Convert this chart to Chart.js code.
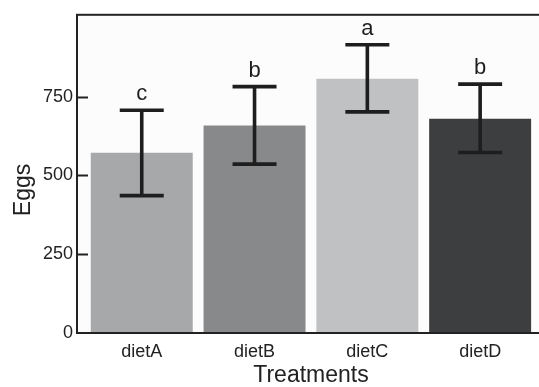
<!DOCTYPE html>
<html>
<head>
<meta charset="utf-8">
<script src="https://cdn.jsdelivr.net/npm/chart.js@4/dist/chart.umd.min.js"></script>
<style>
  html, body { margin: 0; padding: 0; background: #ffffff; overflow: hidden; }
  #wrap { width: 539px; height: 387px; overflow: hidden; }
  canvas { display: block; }
</style>
</head>
<body>
<div id="wrap"><canvas id="eggsChart" width="560" height="387"></canvas></div>
<script>
/* eggs per treatment, mean with error bars and significance letters */

const TREATMENTS = ["dietA", "dietB", "dietC", "dietD"];
const EGGS = [572, 659, 807, 680];
const ERR_LOW = [436, 536, 702, 573];
const ERR_HIGH = [707, 782, 915, 790];
const LETTERS = ["c", "b", "a", "b"];
const Y_TICKS = [0, 250, 500, 750];
const BAR_COLORS = ["#a7a8aa", "#88898b", "#c0c1c3", "#3d3e40"];

const FONT = "'Liberation Sans', Arial, sans-serif";
const INK = "#1e1e1e";

const decorations = {
  id: "decorations",
  beforeDatasetsDraw(chart) {
    const { ctx, chartArea: a } = chart;
    ctx.save();
    ctx.fillStyle = "#fcfcfc";
    ctx.fillRect(a.left, a.top, a.right - a.left, a.bottom - a.top);
    ctx.restore();
  },
  afterDatasetsDraw(chart) {
    const { ctx, chartArea: a, scales } = chart;
    const x = scales.x, y = scales.y;
    ctx.save();

    // error bars
    ctx.strokeStyle = INK;
    ctx.lineWidth = 3.6;
    ctx.lineCap = "butt";
    TREATMENTS.forEach((_, i) => {
      const cx = x.getPixelForValue(i);
      const lo = y.getPixelForValue(ERR_LOW[i]);
      const hi = y.getPixelForValue(ERR_HIGH[i]);
      ctx.beginPath();
      ctx.moveTo(cx, lo); ctx.lineTo(cx, hi);
      ctx.moveTo(cx - 22, lo); ctx.lineTo(cx + 22, lo);
      ctx.moveTo(cx - 22, hi); ctx.lineTo(cx + 22, hi);
      ctx.stroke();
    });

    // significance letters
    ctx.fillStyle = INK;
    ctx.font = "22px " + FONT;
    ctx.textAlign = "center";
    ctx.textBaseline = "alphabetic";
    LETTERS.forEach((letter, i) => {
      ctx.fillText(letter, x.getPixelForValue(i), y.getPixelForValue(ERR_HIGH[i]) - 10);
    });

    // frame and inward ticks
    ctx.strokeStyle = "#222";
    ctx.lineWidth = 2;
    ctx.strokeRect(a.left, a.top, a.right - a.left, a.bottom - a.top);
    Y_TICKS.slice(1).forEach((v) => {
      const py = Math.round(y.getPixelForValue(v)) + 0.5;
      ctx.beginPath();
      ctx.moveTo(a.left, py); ctx.lineTo(a.left + 11, py);
      ctx.stroke();
    });

    // axis titles
    ctx.fillStyle = "#222";
    ctx.font = "23px " + FONT;
    ctx.textBaseline = "middle";
    ctx.fillText("Treatments", 311, 376);
    ctx.translate(24, 190);
    ctx.rotate(-Math.PI / 2);
    ctx.fillText("Eggs", 0, 0);
    ctx.restore();
  },
};

new Chart(document.getElementById("eggsChart"), {
  type: "bar",
  data: {
    datasets: [{
      data: EGGS.map((v, i) => ({ x: i, y: v })),
      backgroundColor: BAR_COLORS,
      borderWidth: 0,
      barPercentage: 0.904,
      categoryPercentage: 1,
    }],
  },
  options: {
    responsive: false,
    animation: false,
    devicePixelRatio: 1,
    layout: { padding: { top: 5, right: 0, left: 0, bottom: 0 } },
    plugins: { legend: { display: false }, tooltip: { enabled: false } },
    scales: {
      x: {
        type: "linear",
        offset: false,
        min: -0.574,
        max: 3.708,
        grid: { display: false, drawTicks: false },
        border: { display: false },
        afterBuildTicks: (axis) => { axis.ticks = TREATMENTS.map((_, i) => ({ value: i })); },
        afterFit: (axis) => { axis.height = 54; },
        ticks: {
          autoSkip: false,
          maxRotation: 0,
          padding: 8,
          color: "#222",
          font: { family: FONT, size: 18 },
          callback: (v) => TREATMENTS[v] ?? "",
        },
      },
      y: {
        min: 0,
        max: 1010,
        grid: { display: false, drawTicks: false },
        border: { display: false },
        afterBuildTicks: (axis) => { axis.ticks = Y_TICKS.map((v) => ({ value: v })); },
        afterFit: (axis) => { axis.width = 77; },
        ticks: {
          padding: 4,
          color: "#222",
          font: { family: FONT, size: 18 },
        },
      },
    },
  },
  plugins: [decorations],
});
</script>
</body>
</html>
